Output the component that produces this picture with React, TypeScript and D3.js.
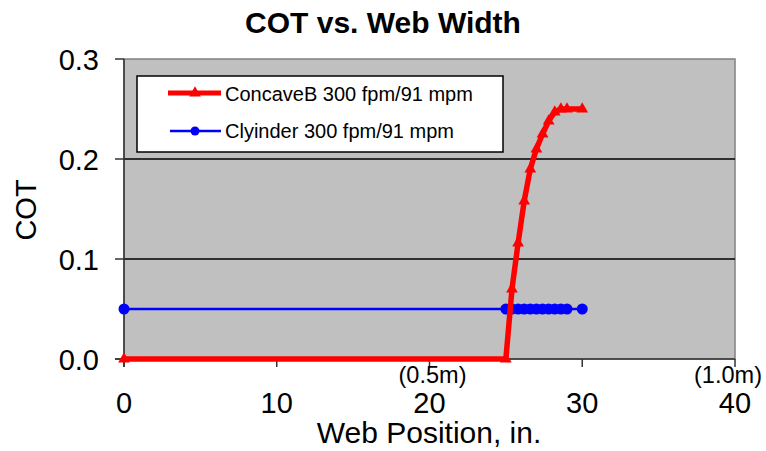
import React from "react";
import * as d3 from "d3";

const concaveX = [0, 25, 25.4, 25.8, 26.2, 26.6, 27.0, 27.4, 27.8, 28.2, 28.6, 29, 30];
const concaveY = [0, 0, 0.07, 0.116, 0.158, 0.19, 0.21, 0.225, 0.238, 0.247, 0.25, 0.25, 0.25];
const cylX = [0, 25, 25.4, 25.8, 26.2, 26.6, 27.0, 27.4, 27.8, 28.2, 28.6, 29, 30];
const cylY = [0.05, 0.05, 0.05, 0.05, 0.05, 0.05, 0.05, 0.05, 0.05, 0.05, 0.05, 0.05, 0.05];
const xTicks = [0, 10, 20, 30, 40];
const yTicks = [0, 0.1, 0.2, 0.3];
const seriesNames = ["ConcaveB 300 fpm/91 mpm", "Clyinder 300 fpm/91 mpm"];
const metricNotes = [
  { x: 20, label: "(0.5m)" },
  { x: 40, label: "(1.0m)" },
];

const W = 766, H = 451;
const L = 124, R = 735, T = 59, B = 359;
const font = "'Liberation Sans', Arial, sans-serif";

export default function App() {
  const x = d3.scaleLinear().domain([0, 40]).range([L, R]);
  const y = d3.scaleLinear().domain([0, 0.3]).range([B, T]);
  const red = concaveX.map((v, i) => [x(v), y(concaveY[i])] as [number, number]);
  const blue = cylX.map((v, i) => [x(v), y(cylY[i])] as [number, number]);
  const line = d3.line();
  const tri = d3.symbol().type(d3.symbolTriangle).size(60)();

  return (
    <svg width={W} height={H} style={{ position: "absolute", left: 0, top: 0 }} fontFamily={font}>
      <rect x={0} y={0} width={W} height={H} fill="#fff" />
      <text x={383} y={33} textAnchor="middle" fontSize={30} fontWeight="bold">COT vs. Web Width</text>
      <rect x={L} y={T} width={R - L} height={B - T} fill="#c0c0c0" stroke="#808080" strokeWidth={1.5} />
      {yTicks.filter(t => t > 0 && t < 0.3).map(t => (
        <line key={t} x1={L} x2={R} y1={y(t)} y2={y(t)} stroke="#000" strokeWidth={1.3} />
      ))}
      <line x1={L} x2={L} y1={T} y2={B + 8} stroke="#333" strokeWidth={1.5} />
      <line x1={L - 9} x2={R} y1={B} y2={B} stroke="#333" strokeWidth={1.5} />
      {yTicks.map(t => (
        <g key={t}>
          <line x1={L - 9} x2={L} y1={y(t)} y2={y(t)} stroke="#333" strokeWidth={1.5} />
          <text x={L - 25} y={y(t) + 11} textAnchor="end" fontSize={29}>{t.toFixed(1)}</text>
        </g>
      ))}
      {xTicks.map(t => (
        <g key={t}>
          <line x1={x(t)} x2={x(t)} y1={B} y2={B + 8} stroke="#333" strokeWidth={1.5} />
          <text x={x(t)} y={413} textAnchor="middle" fontSize={29}>{t}</text>
        </g>
      ))}
      {metricNotes.map(m => (
        <text key={m.label} x={Math.min(x(m.x) + 3, 728)} y={383} textAnchor="middle" fontSize={24}
          textLength={68} lengthAdjust="spacingAndGlyphs">{m.label}</text>
      ))}
      <text x={429} y={443} textAnchor="middle" fontSize={30}>Web Position, in.</text>
      <text transform={`translate(36,210) rotate(-90)`} textAnchor="middle" fontSize={29}>COT</text>

      <path d={line(blue) || ""} fill="none" stroke="#0000ff" strokeWidth={2.5} />
      {blue.map((p, i) => <circle key={i} cx={p[0]} cy={p[1]} r={5.5} fill="#0000ff" />)}
      <path d={line(red) || ""} fill="none" stroke="#ff0000" strokeWidth={5.5} strokeLinejoin="miter" />
      {red.map((p, i) => <path key={i} d={tri || ""} transform={`translate(${p[0]},${p[1]})`} fill="#ff0000" />)}

      <rect x={137} y={76} width={366} height={76} fill="#fff" stroke="#000" strokeWidth={1.5} />
      <line x1={168} x2={221} y1={93} y2={93} stroke="#ff0000" strokeWidth={5} />
      <path d={tri || ""} transform="translate(195,93)" fill="#ff0000" />
      <text x={225} y={101} fontSize={20}>{seriesNames[0]}</text>
      <line x1={170} x2={221} y1={131} y2={131} stroke="#0000ff" strokeWidth={2.5} />
      <circle cx={195} cy={131} r={4.5} fill="#0000ff" />
      <text x={225} y={138} fontSize={20}>{seriesNames[1]}</text>
    </svg>
  );
}
